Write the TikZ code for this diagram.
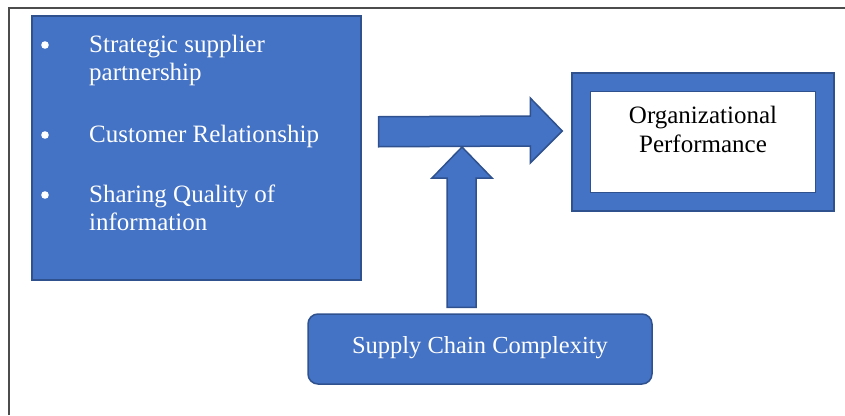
\documentclass[tikz,border=0pt]{standalone}
\usepackage{fontspec}
\setmainfont{Liberation Serif}
\usetikzlibrary{positioning,calc}
\definecolor{boxblue}{HTML}{4472C4}
\definecolor{boxline}{HTML}{2F528F}
\tikzstyle{bluebox}=[draw=boxline, fill=boxblue, line width=1.5pt]
\tikzstyle{blockarrow}=[draw=boxline, fill=boxblue, line width=1.5pt, line join=miter]
\tikzstyle{itemtext}=[text=white, font=\fontsize{25}{28}\selectfont, inner sep=0pt, anchor=base west, align=left]

\begin{document}
\begin{tikzpicture}[x=1pt, y=-1pt]
  \useasboundingbox (0,0) rectangle (845,415);

  % 外枠
  \draw[line width=1.5pt, black!70] (9,415) -- (9,8) -- (845,8);

  % 左の箱
  \node[bluebox, minimum width=329, minimum height=264, anchor=north west] (factors) at (31,15) {};

  % 箇条書き (\y: 点の行, \b: 最後の行のベースライン)
  \foreach \y/\b/\txt in {52/80/{Strategic supplier\\partnership}, 142/142/{Customer Relationship}, 202/230/{Sharing Quality of\\information}}{
    \fill[white] (45,\y-7) circle (3.8);
    \node[itemtext] at (89,\b) {\txt};
  }

  % 右の箱
  \node[bluebox, minimum width=262, minimum height=138] (org) at (703,142) {};
  \node[draw=boxline, line width=1.2pt, fill=white, minimum width=225, minimum height=101] (perf) at (org.center) {};
  \node[font=\fontsize{25}{29}\selectfont, align=center, inner sep=0pt, anchor=base] at ($(perf.north)+(0,62)$) {Organizational\\Performance};

  % 下の箱
  \node[bluebox, rounded corners=10pt, minimum width=344, minimum height=70] (supply) at (480,349) {};
  \node[text=white, font=\fontsize{24.5}{29}\selectfont, inner sep=0pt, anchor=base] at ($(supply.center)+(0,4)$) {Supply Chain Complexity};

  % 矢印の先端
  \coordinate (htip) at ($(org.west)+(-9,-11)$);
  \coordinate (vtip) at (462,147);

  % 横向きの矢印
  \draw[blockarrow] ($(factors.east)+(17,-31)$) -- ($(htip)+(-32,-15)$) -- ($(htip)+(-32,-33)$) -- (htip)
    -- ($(htip)+(-32,32)$) -- ($(htip)+(-32,15)$) -- ($(factors.east)+(17,-1)$) -- cycle;

  % 縦向きの矢印
  \draw[blockarrow] ($(supply.north)+(-33,-6)$) -- ($(vtip)+(-15,31)$) -- ($(vtip)+(-30,31)$) -- (vtip)
    -- ($(vtip)+(30,31)$) -- ($(vtip)+(14,31)$) -- ($(supply.north)+(-4,-6)$) -- cycle;
\end{tikzpicture}
\end{document}
